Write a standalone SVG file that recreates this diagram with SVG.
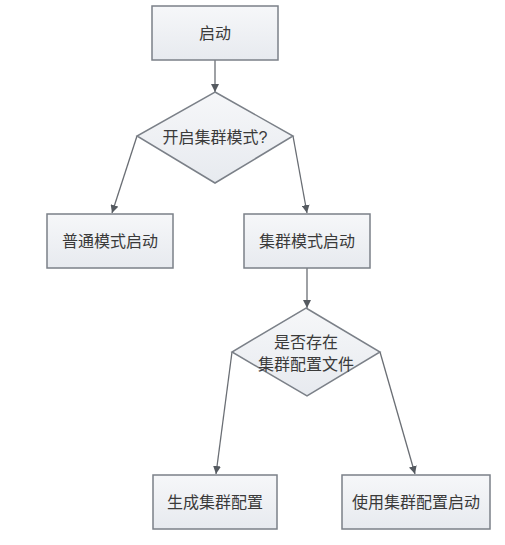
<svg xmlns="http://www.w3.org/2000/svg" width="505" height="545" viewBox="0 0 505 545">
<defs>
<linearGradient id="g" x1="0" y1="0" x2="0" y2="1">
<stop offset="0" stop-color="#f6f7f9"/>
<stop offset="1" stop-color="#e7eaef"/>
</linearGradient>
<marker id="ah" viewBox="0 0 10 10" refX="10" refY="5" markerWidth="8" markerHeight="8" markerUnits="userSpaceOnUse" orient="auto">
<path d="M0,0 L10,5 L0,10 z" fill="#555a60"/>
</marker>
</defs>
<style>
.n{fill:url(#g);stroke:#7b8088;stroke-width:1.5}
.t{font-family:"Liberation Sans","Noto Sans CJK SC",sans-serif;font-size:16px;fill:#3a3a3a;text-anchor:middle}
.c{fill:none;stroke:#6a6e74;stroke-width:1.3;marker-end:url(#ah)}
</style>
<rect width="505" height="545" fill="#fff"/>
<g id="connectors">
<line class="c" x1="215" y1="60" x2="215" y2="92"/>
<line class="c" x1="137" y1="136" x2="112" y2="213"/>
<line class="c" x1="293" y1="136" x2="307" y2="213"/>
<line class="c" x1="307" y1="268" x2="307" y2="308"/>
<line class="c" x1="232" y1="352" x2="216" y2="474"/>
<line class="c" x1="380" y1="352" x2="415" y2="474"/>
</g>
<g id="start">
<rect class="n" x="152" y="6" width="126" height="54"/>
<text class="t" x="215" y="39">启动</text>
</g>
<g id="decision1">
<polygon class="n" points="215,92 293,136 215,183 137,136"/>
<text class="t" x="215" y="143">开启集群模式?</text>
</g>
<g id="normal">
<rect class="n" x="47" y="214" width="126" height="54"/>
<text class="t" x="110" y="247">普通模式启动</text>
</g>
<g id="cluster">
<rect class="n" x="244" y="214" width="126" height="54"/>
<text class="t" x="307" y="247">集群模式启动</text>
</g>
<g id="decision2">
<polygon class="n" points="306,308 380,352 307,396 232,352"/>
<text class="t" x="306" y="348">是否存在</text>
<text class="t" x="306" y="370">集群配置文件</text>
</g>
<g id="generate">
<rect class="n" x="153" y="475" width="124" height="54"/>
<text class="t" x="215" y="508">生成集群配置</text>
</g>
<g id="use">
<rect class="n" x="342" y="475" width="148" height="54"/>
<text class="t" x="416" y="508">使用集群配置启动</text>
</g>
</svg>
